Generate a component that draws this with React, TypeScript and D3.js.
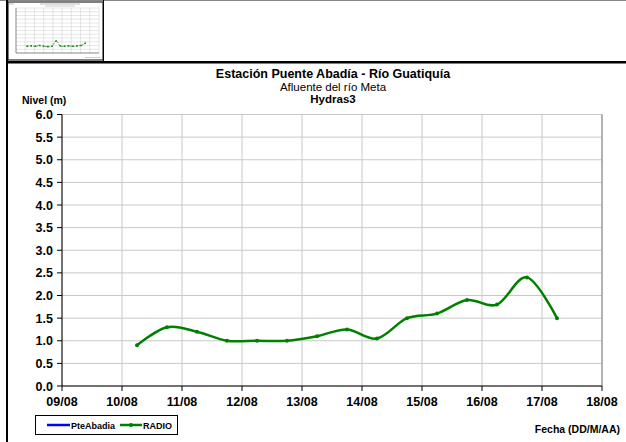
import React from "react";
import * as d3 from "d3";

// ---- Data ----
const times: string[] = [
  "2014-08-10T06:00", "2014-08-10T18:00", "2014-08-11T06:00", "2014-08-11T18:00",
  "2014-08-12T06:00", "2014-08-12T18:00", "2014-08-13T06:00", "2014-08-13T18:00",
  "2014-08-14T06:00", "2014-08-14T18:00", "2014-08-15T06:00", "2014-08-15T18:00",
  "2014-08-16T06:00", "2014-08-16T18:00", "2014-08-17T06:00",
];
const radio: number[] = [0.9, 1.3, 1.2, 1.0, 1.0, 1.0, 1.1, 1.25, 1.05, 1.5, 1.6, 1.9, 1.8, 2.4, 1.5];
const pteAbadia: number[] = [];
const yTicks: number[] = [0, 0.5, 1, 1.5, 2, 2.5, 3, 3.5, 4, 4.5, 5, 5.5, 6];
const xStart = "2014-08-09T00:00";
const xEnd = "2014-08-18T00:00";
const thumbValues: number[] = [0.9, 0.95, 0.9, 1.0, 0.9, 0.85, 0.9, 1.6, 0.95, 0.9, 0.95, 0.9, 0.95, 1.0, 1.3];

const parse = d3.timeParse("%Y-%m-%dT%H:%M");
const FONT = "'Liberation Sans', Arial, sans-serif";

export default function App() {
  const W = 626, H = 442;
  const x = d3.scaleTime().domain([parse(xStart)!, parse(xEnd)!]).range([62, 602]);
  const y = d3.scaleLinear().domain([0, 6]).range([386, 114.5]);
  const days = d3.timeDay.range(parse(xStart)!, d3.timeDay.offset(parse(xEnd)!, 1));
  const fmt = d3.timeFormat("%d/%m");
  const pts = times.map((t, i) => [x(parse(t)!), y(radio[i])] as [number, number]);
  const line = d3.line().curve(d3.curveCardinal.tension(0));

  // thumbnail
  const tx = d3.scaleLinear().domain([0, 9]).range([16, 99]);
  const ty = d3.scaleLinear().domain([0, 6]).range([53, 8]);
  const thumbPts = thumbValues.map((v, i) => [tx(1.2 + i * 0.45), ty(v)] as [number, number]);

  return (
    <svg width={W} height={H} style={{ position: "absolute", left: 0, top: 0, background: "#fff" }} fontFamily={FONT}>
      <rect x={0} y={0} width={W} height={H} fill="#fff" />
      {/* frame */}
      <line x1={0} x2={W} y1={0.5} y2={0.5} stroke="#888" />
      <rect x={6} y={0} width={2} height={H} fill="#000" />
      <rect x={6} y={61} width={W - 6} height={2.5} fill="#000" />
      <line x1={103.5} x2={103.5} y1={0} y2={62} stroke="#000" />
      {/* thumbnail */}
      <g>
        <rect x={8} y={2} width={95} height={58} fill="#fff" stroke="#000" strokeWidth={1} />
        {d3.range(0, 6.5, 0.5).map((v) => (
          <line key={"th" + v} x1={16} x2={99} y1={ty(v)} y2={ty(v)} stroke="#ccc" strokeWidth={0.5} />
        ))}
        {d3.range(0, 10).map((v) => (
          <line key={"tv" + v} x1={tx(v)} x2={tx(v)} y1={8} y2={53} stroke="#ccc" strokeWidth={0.5} />
        ))}
        <line x1={16} x2={16} y1={8} y2={53} stroke="#555" strokeWidth={0.6} />
        <line x1={16} x2={99} y1={53} y2={53} stroke="#555" strokeWidth={0.6} />
        <line x1={40} x2={80} y1={4} y2={4} stroke="#bbb" strokeWidth={1} />
        <line x1={45} x2={75} y1={6} y2={6} stroke="#ccc" strokeWidth={1} />
        <line x1={9} x2={14} y1={4} y2={4} stroke="#bbb" strokeWidth={1} />
        <line x1={85} x2={100} y1={57.5} y2={57.5} stroke="#ccc" strokeWidth={1} />
        <path d={line(thumbPts) || ""} fill="none" stroke="#2a8a2a" strokeWidth={0.8} strokeDasharray="2 1" />
        {thumbPts.map((p, i) => (
          <rect key={"tp" + i} x={p[0] - 0.8} y={p[1] - 0.8} width={1.6} height={1.6} fill="#1a8a1a" />
        ))}
      </g>

      {/* titles */}
      <text x={333} y={78} textAnchor="middle" fontSize={12.5} fontWeight="bold">Estación Puente Abadía  - Río Guatiquía</text>
      <text x={333} y={90.5} textAnchor="middle" fontSize={11.5}>Afluente del río Meta</text>
      <text x={333} y={102.5} textAnchor="middle" fontSize={11.5} fontWeight="bold">Hydras3</text>
      <text x={22} y={104} fontSize={10.5} fontWeight="bold">Nivel (m)</text>

      {/* grid */}
      {yTicks.map((v) => (
        <line key={"gy" + v} x1={62} x2={602} y1={y(v)} y2={y(v)} stroke="#c8c8c8" strokeWidth={1} />
      ))}
      {days.map((d, i) => (
        <line key={"gx" + i} x1={x(d)} x2={x(d)} y1={114.5} y2={386} stroke="#c8c8c8" strokeWidth={1} />
      ))}
      <line x1={602} x2={602} y1={114.5} y2={386} stroke="#808080" strokeWidth={1} />

      {/* axes */}
      <line x1={62} x2={62} y1={114.5} y2={386} stroke="#000" strokeWidth={1} />
      <line x1={62} x2={602} y1={386} y2={386} stroke="#000" strokeWidth={1} />
      {yTicks.map((v) => (
        <g key={"ty" + v}>
          <line x1={57} x2={62} y1={y(v)} y2={y(v)} stroke="#000" />
          <text x={53} y={y(v) + 4.5} textAnchor="end" fontSize={12.5} fontWeight="bold">{v.toFixed(1)}</text>
        </g>
      ))}
      {days.map((d, i) => (
        <g key={"tx" + i}>
          <line x1={x(d)} x2={x(d)} y1={386} y2={391} stroke="#000" />
          <text x={x(d)} y={406} textAnchor="middle" fontSize={12.5} fontWeight="bold">{fmt(d)}</text>
        </g>
      ))}

      {/* series */}
      {pteAbadia.length > 0 && null}
      <path d={line(pts) || ""} fill="none" stroke="#008000" strokeWidth={2.5} />
      {pts.map((p, i) => (
        <circle key={"p" + i} cx={p[0]} cy={p[1]} r={2} fill="#008000" />
      ))}

      {/* legend */}
      <rect x={35.5} y={415.5} width={142} height={19} fill="#fff" stroke="#000" strokeWidth={1} />
      <line x1={47} x2={70} y1={425} y2={425} stroke="#0000ff" strokeWidth={2.5} />
      <text x={71} y={429} fontSize={9} fontWeight="bold">PteAbadia</text>
      <line x1={120} x2={142} y1={425} y2={425} stroke="#008000" strokeWidth={2.5} />
      <circle cx={131} cy={425} r={2} fill="#008000" />
      <text x={143} y={429} fontSize={9} fontWeight="bold">RADIO</text>
      <text x={620} y={433} textAnchor="end" fontSize={10.5} fontWeight="bold">Fecha (DD/M/AA)</text>
    </svg>
  );
}
